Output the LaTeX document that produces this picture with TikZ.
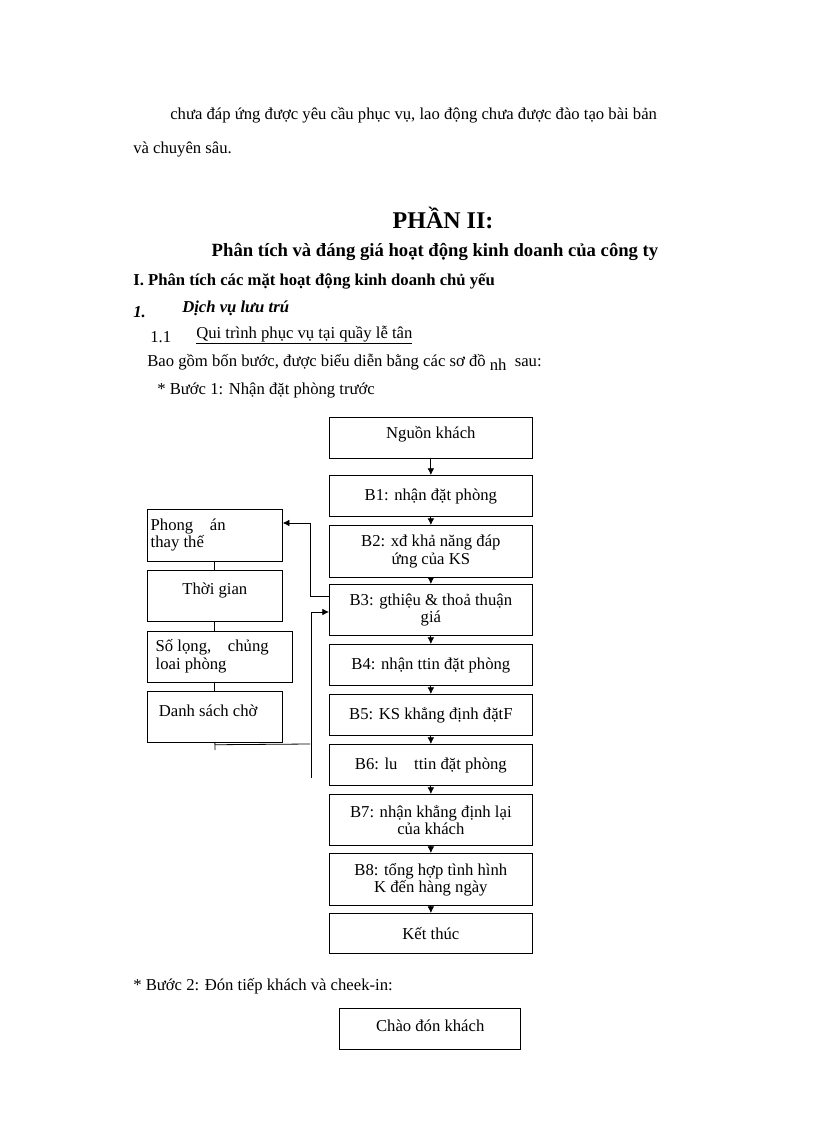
\documentclass[tikz,border=0pt]{standalone}
\usepackage{fontspec}
\setmainfont{Liberation Serif}
\usetikzlibrary{arrows.meta}
\begin{document}
\begin{tikzpicture}[x=0.75pt,y=-0.75pt,
 bx/.style={draw,line width=0.8pt,inner sep=0pt,font=\fontsize{12.5}{13}\selectfont,align=center},
 txt/.style={anchor=west,inner sep=0pt,font=\fontsize{12.5}{15}\selectfont},
 arr/.style={-{Latex[length=5pt,width=5pt]},line width=0.6pt},
 ln/.style={line width=0.6pt}]
\useasboundingbox (0,0) rectangle (816,1123);
\node[txt] (p1) at (170,115) {chưa đáp ứng được yêu cầu phục vụ, lao động chưa được đào tạo bài bản};
\node[txt] (p2) at (133,150) {và chuyên sâu.};
\node[inner sep=0pt,font=\bfseries\fontsize{18}{20}\selectfont] (h1) at (443,218) {PHẦN II:};
\node[inner sep=0pt,font=\bfseries\fontsize{14}{16}\selectfont] (h2) at (435,252) {Phân tích và đáng giá hoạt động kinh doanh của công ty};
\node[txt,font=\bfseries\fontsize{12.5}{15}\selectfont] (h3) at (133,281) {I. Phân tích các mặt hoạt động kinh doanh chủ yếu};
\node[txt,font=\bfseries\itshape\fontsize{12.5}{15}\selectfont] (h4a) at (133,312) {1.};
\node[txt,font=\bfseries\itshape\fontsize{12.5}{15}\selectfont] (h4) at (182,308) {Dịch vụ lưu trú};
\node[txt] (h5a) at (150,337) {1.1};
\node[txt] (h5) at (196,335) {\underline{Qui trình phục vụ tại quầy lễ tân}};
\node[txt] (h6) at (147,362) {Bao gồm bốn bước, được biểu diễn bằng các sơ đồ \raisebox{-3pt}{nh}\ \ sau:};
\node[txt] (h7) at (157,390) {* Bước 1: Nhận đặt phòng trước};

\node[bx,minimum width=152pt,minimum height=31pt,anchor=north west] (n0) at (329,417) {\raisebox{8pt}{Nguồn khách}};
\node[bx,minimum width=152pt,minimum height=31pt,anchor=north west] (b1) at (329,475) {B1: nhận đặt phòng};
\node[bx,minimum width=152pt,minimum height=39pt,anchor=north west] (b2) at (329,525) {B2: xđ khả năng đáp\\ ứng của KS};
\node[bx,minimum width=152pt,minimum height=38pt,anchor=north west] (b3) at (329,584) {B3: gthiệu \& thoả thuận\\ giá};
\node[bx,minimum width=152pt,minimum height=31pt,anchor=north west] (b4) at (329,644) {B4: nhận ttin đặt phòng};
\node[bx,minimum width=152pt,minimum height=31pt,anchor=north west] (b5) at (329,694) {B5: KS khẳng định đặtF};
\node[bx,minimum width=152pt,minimum height=31pt,anchor=north west] (b6) at (329,744) {B6: lu\quad ttin đặt phòng};
\node[bx,minimum width=152pt,minimum height=38pt,anchor=north west] (b7) at (329,794) {B7: nhận khẳng định lại\\ của khách};
\node[bx,minimum width=152pt,minimum height=39pt,anchor=north west] (b8) at (329,853) {B8: tổng hợp tình hình\\ K đến hàng ngày};
\node[bx,minimum width=152pt,minimum height=30pt,anchor=north west] (b9) at (329,913) {Kết thúc};
\foreach \a/\b in {n0/b1,b1/b2,b2/b3,b3/b4,b4/b5,b5/b6,b6/b7,b7/b8,b8/b9}
  \draw[arr] (\a.south) -- (\b.north);

\node[bx,minimum width=101pt,minimum height=39pt,anchor=north west,align=left] (l1) at (147,509) {\raisebox{6pt}{\begin{tabular}{@{}l@{}}Phong\quad án\\thay thế\end{tabular}}\hspace{40pt}};
\node[bx,minimum width=101pt,minimum height=38pt,anchor=north west] (l2) at (147,570) {\raisebox{10pt}{Thời gian}};
\node[bx,minimum width=109pt,minimum height=38pt,anchor=north west,align=left] (l3) at (147,631) {\begin{tabular}{@{}l@{}}Số lọng,\quad chủng\\loai phòng\end{tabular}\hspace{12pt}};
\node[bx,minimum width=101pt,minimum height=38pt,anchor=north west] (l4) at (147,691) {\raisebox{10pt}{Danh sách chờ}\hspace{10pt}};
\coordinate (lx) at (215,0);
\draw[ln] (l1.south) -- (l2.north);
\draw[ln] (l2.south) -- (l2.south |- l3.north);
\draw[ln] (l2.south |- l3.south) -- (l4.north);
\coordinate (c1) at (310,596);
\coordinate (c2) at (310,523);
\coordinate (c3) at (311,612);
\coordinate (c4) at (311,778);
\coordinate (c5) at (215,750);
\draw[ln] (b3.west |- c1) -- (c1) -- (c2);
\draw[arr] (c2) -- (l1.east |- c2);
\draw[ln] (c4) -- (c3);
\draw[arr] (c3) -- (b3.west |- c3);
\draw[ln] (l4.south) -- (c5);
\draw[ln] (l4.south) ++(0,2) -- (310,744);

\node[txt] (s2) at (133,986) {* Bước 2: Đón tiếp khách và cheek-in:};
\node[bx,minimum width=136pt,minimum height=31pt,anchor=north west] (c0) at (339,1008) {\raisebox{6pt}{Chào đón khách}};
\end{tikzpicture}
\end{document}
